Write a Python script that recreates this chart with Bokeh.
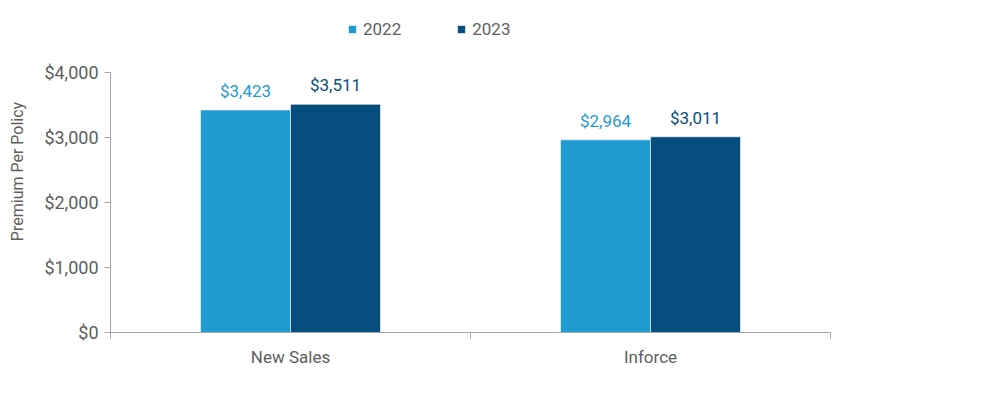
from bokeh.plotting import figure
from bokeh.models import (Range1d, FixedTicker, LinearAxis, Legend, LegendItem,
                          ColumnDataSource, NumeralTickFormatter)
from bokeh.core.properties import value
from bokeh.embed import file_html
from bokeh.resources import INLINE

categories = ["New Sales", "Inforce"]
years = ["2022", "2023"]
values_2022 = [3423, 2964]
values_2023 = [3511, 3011]
colors = ["#1F9BD0", "#064E7E"]
y_ticks = [0, 1000, 2000, 3000, 4000]
y_max = 4000

FONT = "Roboto"
GRAY = "#5E5E5E"
AXIS = "#A6A6A6"

# frame: top at 10px, 4000 at 72px, 0 at 332px -> extend range upward for legend room
frame_top, tick_top, frame_bottom = 10, 72, 332
y_end = y_max * (frame_bottom - frame_top) / (frame_bottom - tick_top)

p = figure(width=984, height=380, output_backend="svg", toolbar_location=None,
           x_range=Range1d(0, len(categories)), y_range=Range1d(0, y_end),
           min_border_left=110, min_border_right=154, min_border_top=frame_top,
           min_border_bottom=380 - frame_bottom)
p.outline_line_color = None
p.xgrid.visible = False
p.ygrid.visible = False

bw = 0.25
renderers = []
for j, (yr, vals) in enumerate(zip(years, [values_2022, values_2023])):
    xs = [i + 0.5 + (j - 0.5) * bw for i in range(len(categories))]
    src = ColumnDataSource(dict(x=xs, top=vals,
                                lab=["${:,}".format(v) for v in vals]))
    r = p.vbar(x="x", top="top", width=bw, bottom=0, source=src,
               fill_color=colors[j], line_color="#FFFFFF", line_width=0.6)
    renderers.append(r)
    p.text(x="x", y="top", text="lab", source=src, text_align="center",
           text_baseline="bottom", y_offset=-9, text_color=colors[j],
           text_font=value(FONT), text_font_size="17px")

# y axis
ya = p.yaxis[0]
ya.ticker = FixedTicker(ticks=y_ticks)
ya.bounds = (0, y_max)
ya.formatter = NumeralTickFormatter(format="$0,0")
ya.minor_tick_line_color = None
ya.major_tick_in = 0
ya.major_tick_out = 6
ya.axis_line_color = AXIS
ya.major_tick_line_color = AXIS
ya.major_label_text_font = FONT
ya.major_label_text_font_size = "18px"
ya.major_label_text_color = GRAY
ya.major_label_standoff = 6
ya.axis_label = "Premium Per Policy"
ya.axis_label_text_font = FONT
ya.axis_label_text_font_size = "16px"
ya.axis_label_text_font_style = "normal"
ya.axis_label_text_color = GRAY
ya.axis_label_standoff = 14

# x axis: boundary ticks, no labels
bounds_ticks = list(range(len(categories) + 1))
xa = p.xaxis[0]
xa.ticker = FixedTicker(ticks=bounds_ticks)
xa.major_label_overrides = {t: "" for t in bounds_ticks}
xa.major_label_standoff = 0
xa.minor_tick_line_color = None
xa.major_tick_in = 0
xa.major_tick_out = 6
xa.axis_line_color = AXIS
xa.major_tick_line_color = AXIS

# category labels axis
xa2 = LinearAxis(ticker=FixedTicker(ticks=[i + 0.5 for i in range(len(categories))]),
                 major_label_overrides={i + 0.5: c for i, c in enumerate(categories)})
xa2.axis_line_color = None
xa2.major_tick_line_color = None
xa2.minor_tick_line_color = None
xa2.major_label_text_font = FONT
xa2.major_label_text_font_size = "17px"
xa2.major_label_text_color = GRAY
xa2.major_label_standoff = 2
p.add_layout(xa2, "below")

legend = Legend(items=[LegendItem(label=yr, renderers=[r]) for yr, r in zip(years, renderers)],
                orientation="horizontal", location=(237, 293),
                glyph_width=10, glyph_height=10, label_standoff=6, spacing=55,
                padding=0, margin=0, border_line_color=None, background_fill_alpha=0,
                label_text_font=FONT, label_text_font_size="17px",
                label_text_color=GRAY, label_height=20)
p.add_layout(legend, "center")

open("out.html", "w").write(file_html(p, INLINE))
